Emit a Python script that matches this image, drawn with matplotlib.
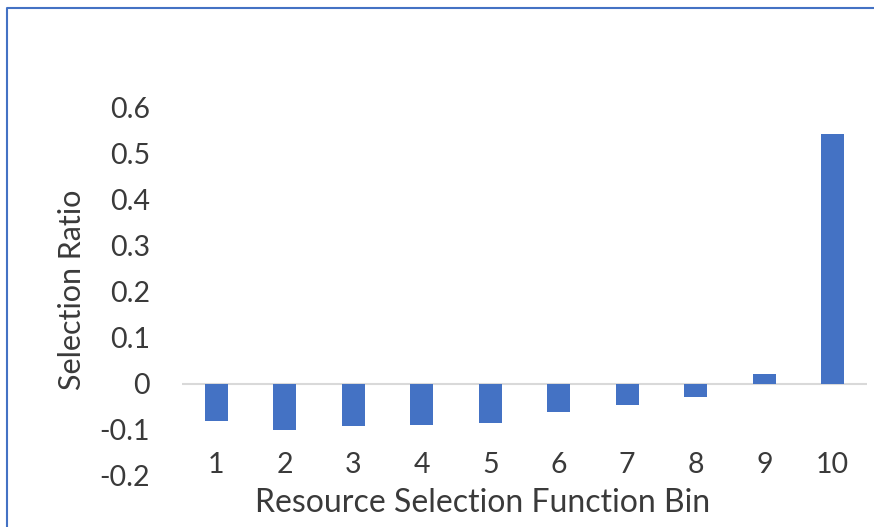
import matplotlib
matplotlib.use("Agg")
import matplotlib.pyplot as plt
from matplotlib.lines import Line2D

bins = ["1", "2", "3", "4", "5", "6", "7", "8", "9", "10"]
ratios = [-0.081, -0.099, -0.092, -0.089, -0.085, -0.060, -0.046, -0.028, 0.022, 0.543]
yticks = [-0.2, -0.1, 0, 0.1, 0.2, 0.3, 0.4, 0.5, 0.6]
ytick_labels = ["-0.2", "-0.1", "0", "0.1", "0.2", "0.3", "0.4", "0.5", "0.6"]

plt.rcParams['font.family'] = ['Lato', 'DejaVu Sans']
W, H = 874, 527
fig = plt.figure(figsize=(W / 100, H / 100), dpi=100)
ax = fig.add_axes([182 / W, 1 - 476 / H, (867 - 182) / W, (476 - 108) / H])

x = list(range(1, len(bins) + 1))
ax.bar(x, ratios, width=0.34, color="#4472C4", zorder=3)
ax.axhline(0, color="#D9D9D9", lw=1.5, zorder=2)

ax.set_xlim(0.5, 10.5)
ax.set_ylim(-0.2, 0.6)
ax.set_yticks(yticks)
ax.set_yticklabels(ytick_labels)
ax.set_xticks(x)
ax.set_xticklabels(bins)
for s in ax.spines.values():
    s.set_visible(False)
ax.tick_params(axis='y', length=0, pad=23, labelsize=20.5, labelcolor="#3a3a3a")
ax.tick_params(axis='x', length=0, pad=-17, labelsize=20.5, labelcolor="#3a3a3a")

fig.text(72 / W, 1 - 290 / H, "Selection Ratio", rotation=90, ha="center", va="center",
         fontsize=22, color="#3a3a3a")
fig.text(483 / W, 1 - 503 / H, "Resource Selection Function Bin", ha="center", va="center",
         fontsize=23, color="#3a3a3a")

# outer border (top and left visible)
fig.add_artist(Line2D([7 / W, 7 / W, 1.0], [0.0, 1 - 8 / H, 1 - 8 / H],
                      transform=fig.transFigure, color="#4472C4", lw=1.5))

fig.savefig("out.png", dpi=100, facecolor="white")
